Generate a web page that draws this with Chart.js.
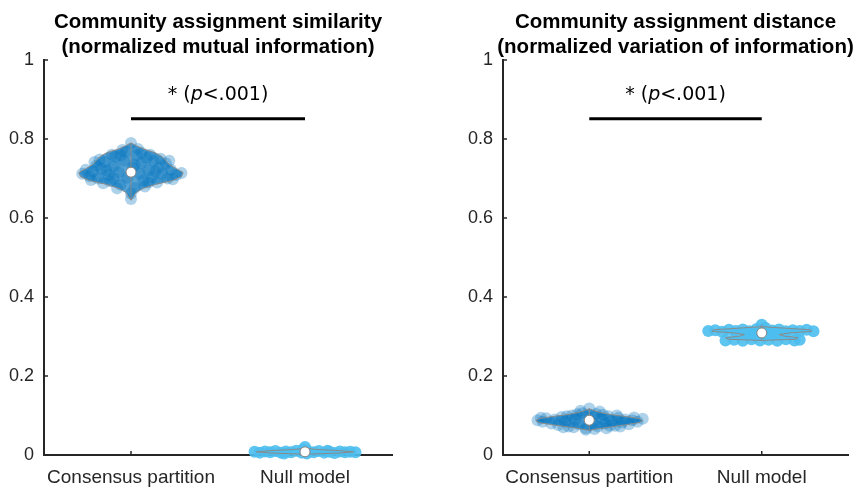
<!DOCTYPE html>
<html>
<head>
<meta charset="utf-8">
<script src="https://cdn.jsdelivr.net/npm/chart.js@4.4.1/dist/chart.umd.min.js"></script>
<style>
  html, body { margin: 0; padding: 0; background: #fff; }
  #wrap { position: relative; width: 858px; height: 489px; }
  .panel { position: absolute; top: 0; }
</style>
</head>
<body>
<div id="wrap">
  <canvas id="chartSim" class="panel" style="left:0" width="429" height="489"></canvas>
  <canvas id="chartDist" class="panel" style="left:429px" width="429" height="489"></canvas>
</div>
<script>
// ejes
const categories = ['Consensus partition', 'Null model'];
const catPositions = [1, 2];
const yTicks = [0, 0.2, 0.4, 0.6, 0.8, 1];
const yTickLabels = ['0', '0.2', '0.4', '0.6', '0.8', '1'];

const simTitle = ['Community assignment similarity', '(normalized mutual information)'];
const distTitle = ['Community assignment distance', '(normalized variation of information)'];

// barra de significancia
const sigLevel = 0.851;
const sigParts = ['* (', 'p', '<.001)'];

// --- NMI: consensus partition ---
const simConsOutlineY = [0.645, 0.655, 0.665, 0.675, 0.685, 0.695, 0.705, 0.715, 0.725, 0.735, 0.745, 0.755, 0.765, 0.775, 0.783, 0.79];
const simConsOutlineW = [0.0, 0.015, 0.03, 0.07, 0.14, 0.24, 0.29, 0.30, 0.26, 0.22, 0.20, 0.18, 0.14, 0.07, 0.03, 0.0];
const simConsPoints = [
  [-0.28, 0.712], [-0.24, 0.706], [-0.22, 0.718], [-0.19, 0.700], [-0.17, 0.725], [-0.15, 0.742],
  [-0.13, 0.709], [-0.12, 0.693], [-0.10, 0.731], [-0.09, 0.755], [-0.07, 0.716], [-0.06, 0.684],
  [-0.04, 0.745], [-0.03, 0.768], [-0.02, 0.702], [0.0, 0.790], [0.0, 0.648], [0.01, 0.728],
  [0.02, 0.676], [0.03, 0.758], [0.05, 0.712], [0.06, 0.739], [0.07, 0.695], [0.09, 0.752],
  [0.10, 0.721], [0.12, 0.704], [0.13, 0.744], [0.15, 0.690], [0.16, 0.728], [0.18, 0.712],
  [0.20, 0.738], [0.21, 0.700], [0.23, 0.722], [0.26, 0.709], [0.29, 0.714], [-0.26, 0.722],
  [-0.20, 0.732], [-0.16, 0.688], [0.11, 0.760], [-0.11, 0.760], [0.08, 0.680], [-0.08, 0.675],
  [0.24, 0.698], [-0.23, 0.696], [0.04, 0.775], [-0.05, 0.772], [0.14, 0.718], [-0.14, 0.720],
  [0.0, 0.662], [0.02, 0.735], [-0.18, 0.748], [0.17, 0.750], [-0.21, 0.742], [0.22, 0.745],
  [0.06, 0.765], [-0.06, 0.758], [0.10, 0.690], [-0.10, 0.700]
];
// --- NMI: null model ---
const simNullOutlineY = [0.002, 0.005, 0.008, 0.011, 0.014, 0.018];
const simNullOutlineW = [0.0, 0.2, 0.28, 0.2, 0.06, 0.0];
const simNullPoints = [
  [-0.29, 0.008], [-0.26, 0.006], [-0.23, 0.009], [-0.20, 0.007], [-0.17, 0.010], [-0.14, 0.006],
  [-0.11, 0.009], [-0.08, 0.007], [-0.05, 0.011], [-0.02, 0.006], [0.0, 0.020], [0.02, 0.009],
  [0.05, 0.007], [0.08, 0.010], [0.11, 0.006], [0.14, 0.008], [0.17, 0.005], [0.20, 0.009],
  [0.23, 0.007], [0.26, 0.008], [0.29, 0.007], [-0.01, 0.014], [0.01, 0.004], [-0.12, 0.004], [0.13, 0.011]
];
const simMedians = [0.716, 0.008];
const simRanges = [[0.645, 0.79], [0.003, 0.02]];

// --- VI: consensus partition ---
const distConsOutlineY = [0.062, 0.067, 0.072, 0.077, 0.082, 0.087, 0.092, 0.097, 0.102, 0.107, 0.112, 0.117];
const distConsOutlineW = [0.0, 0.06, 0.14, 0.22, 0.29, 0.31, 0.29, 0.22, 0.13, 0.07, 0.03, 0.0];
const distConsPoints = [
  [-0.30, 0.088], [-0.27, 0.084], [-0.25, 0.093], [-0.22, 0.080], [-0.20, 0.090], [-0.18, 0.076],
  [-0.16, 0.096], [-0.14, 0.085], [-0.12, 0.072], [-0.10, 0.100], [-0.08, 0.090], [-0.06, 0.078],
  [-0.04, 0.106], [-0.02, 0.068], [0.0, 0.118], [0.0, 0.094], [0.02, 0.082], [0.04, 0.104],
  [0.05, 0.072], [0.07, 0.092], [0.09, 0.080], [0.11, 0.098], [0.13, 0.086], [0.15, 0.074],
  [0.17, 0.094], [0.19, 0.082], [0.21, 0.090], [0.23, 0.078], [0.25, 0.088], [0.28, 0.084],
  [0.31, 0.092], [-0.28, 0.094], [0.26, 0.095], [-0.09, 0.070], [0.10, 0.068], [-0.05, 0.112],
  [0.06, 0.110], [0.12, 0.074], [-0.13, 0.098], [0.18, 0.072], [-0.02, 0.064], [0.03, 0.066],
  [-0.07, 0.103], [0.08, 0.102], [-0.15, 0.070], [0.16, 0.100]
];
// --- VI: null model ---
const distNullOutlineY = [0.290, 0.293, 0.297, 0.301, 0.305, 0.309, 0.313, 0.317, 0.321, 0.325];
const distNullOutlineW = [0.0, 0.20, 0.21, 0.13, 0.10, 0.16, 0.29, 0.28, 0.14, 0.0];
const distNullPoints = [
  [-0.31, 0.314], [-0.27, 0.316], [-0.23, 0.312], [-0.19, 0.317], [-0.15, 0.314], [-0.11, 0.318],
  [-0.07, 0.313], [-0.03, 0.319], [0.0, 0.330], [0.02, 0.322], [0.06, 0.315], [0.10, 0.318],
  [0.14, 0.313], [0.18, 0.316], [0.22, 0.314], [0.26, 0.317], [0.30, 0.313], [-0.21, 0.290],
  [-0.16, 0.292], [-0.11, 0.289], [-0.06, 0.293], [-0.01, 0.290], [0.04, 0.292], [0.09, 0.289],
  [0.14, 0.293], [0.19, 0.290], [0.22, 0.292], [-0.04, 0.303], [0.05, 0.305]
];
const distMedians = [0.088, 0.309];
const distRanges = [[0.062, 0.118], [0.29, 0.33]];

const darkBlueFill = 'rgba(0, 114, 189, 0.65)';
const darkBluePoint = 'rgba(0, 114, 189, 0.32)';
const lightBlueFill = 'rgba(77, 190, 238, 1)';
const lightBluePoint = 'rgba(77, 190, 238, 0.9)';
const axisColor = '#262626';

/**
 * Datasets de un violín: relleno, puntos, contorno, bigote y mediana.
 */
function violinSets(center, outY, outW, points, median, range, fillColor, pointColor, radius) {
    const edge = side => outY.map((y, i) => ({x: center + side * outW[i], y: y}));
    const sets = [];
    [1, -1].forEach(side => {
        sets.push({
            type: 'line', indexAxis: 'y', data: edge(side), borderWidth: 0, pointRadius: 0,
            fill: {value: center}, backgroundColor: fillColor, order: 5, clip: false
        });
        sets.push({
            type: 'line', data: edge(side), borderColor: '#8a8a8a', borderWidth: 1,
            pointRadius: 0, fill: false, order: 3, clip: false
        });
    });
    sets.push({
        type: 'scatter', data: points.map(p => ({x: center + p[0], y: p[1]})),
        pointRadius: radius, pointBorderWidth: 0, backgroundColor: pointColor, order: 4, clip: false
    });
    sets.push({
        type: 'line', data: [{x: center, y: range[0]}, {x: center, y: range[1]}],
        borderColor: '#8a8a8a', borderWidth: 1, pointRadius: 0, fill: false, order: 2, clip: false
    });
    sets.push({
        type: 'scatter', data: [{x: center, y: median}], pointRadius: 5,
        backgroundColor: '#ffffff', borderColor: '#808080', borderWidth: 1, order: 0, clip: false
    });
    return sets;
}

// ticks hacia dentro, título y etiqueta de significancia
const decor = {
    id: 'decor',
    beforeDatasetsDraw(chart) {
        const {ctx, scales: {x, y}} = chart;
        ctx.save();
        ctx.strokeStyle = axisColor;
        ctx.lineWidth = 1.5;
        yTicks.forEach(v => {
            const py = y.getPixelForValue(v);
            ctx.beginPath(); ctx.moveTo(x.left, py); ctx.lineTo(x.left + 4, py); ctx.stroke();
        });
        catPositions.forEach(v => {
            const px = x.getPixelForValue(v);
            ctx.beginPath(); ctx.moveTo(px, y.bottom); ctx.lineTo(px, y.bottom - 4); ctx.stroke();
        });
        ctx.restore();
    },
    afterDraw(chart, args, opts) {
        const {ctx, chartArea, scales: {x, y}} = chart;
        ctx.save();
        // título
        ctx.fillStyle = '#000';
        ctx.font = 'bold 20.5px "Liberation Sans", Arial, sans-serif';
        ctx.textAlign = 'center';
        ctx.textBaseline = 'alphabetic';
        const cx = (chartArea.left + chartArea.right) / 2;
        opts.title.forEach((line, i) => ctx.fillText(line, cx, 28 + i * 25));
        // * (p<.001)
        const fonts = ['19px "DejaVu Sans"', 'italic 19px "DejaVu Sans"', '19px "DejaVu Sans"'];
        let total = 0;
        const widths = sigParts.map((t, i) => { ctx.font = fonts[i]; const w = ctx.measureText(t).width; total += w; return w; });
        let tx = x.getPixelForValue(1.5) - total / 2;
        const ty = y.getPixelForValue(sigLevel) - 19;
        ctx.textAlign = 'left';
        ctx.fillStyle = '#000';
        sigParts.forEach((t, i) => { ctx.font = fonts[i]; ctx.fillText(t, tx, ty); tx += widths[i]; });
        ctx.restore();
    }
};

function makeChart(id, title, datasets, yWidth, padRight) {
    return new Chart(document.getElementById(id), {
        type: 'line',
        data: {datasets: datasets},
        options: {
            responsive: false,
            animation: false,
            events: [],
            layout: {padding: {top: 60, right: padRight, left: 0, bottom: 0}},
            plugins: {
                legend: {display: false},
                tooltip: {enabled: false},
                decor: {title: title}
            },
            scales: {
                x: {
                    type: 'linear', min: 0.5, max: 2.5,
                    afterBuildTicks: s => { s.ticks = catPositions.map(v => ({value: v})); },
                    afterFit: s => { s.height = 34; },
                    ticks: {
                        autoSkip: false, maxRotation: 0, padding: 3, color: axisColor,
                        font: {family: 'Liberation Sans', size: 19},
                        callback: (v, i) => categories[i]
                    },
                    grid: {display: false},
                    border: {color: axisColor, width: 2}
                },
                y: {
                    min: 0, max: 1,
                    afterBuildTicks: s => { s.ticks = yTicks.map(v => ({value: v})); },
                    afterFit: s => { s.width = yWidth; },
                    ticks: {
                        padding: 2, color: axisColor,
                        font: {family: 'Liberation Sans', size: 18},
                        callback: (v, i) => yTickLabels[i]
                    },
                    grid: {display: false},
                    border: {color: axisColor, width: 2}
                }
            }
        },
        plugins: [decor]
    });
}

function sigBar() {
    return {
        type: 'line', data: [{x: catPositions[0], y: sigLevel}, {x: catPositions[1], y: sigLevel}],
        borderColor: '#000', borderWidth: 3, pointRadius: 0, fill: false, order: 1
    };
}

const simSets = [sigBar()]
    .concat(violinSets(1, simConsOutlineY, simConsOutlineW, simConsPoints, simMedians[0], simRanges[0], darkBlueFill, darkBluePoint, 6))
    .concat(violinSets(2, simNullOutlineY, simNullOutlineW, simNullPoints, simMedians[1], simRanges[1], lightBlueFill, lightBluePoint, 6));

const distSets = [sigBar()]
    .concat(violinSets(1, distConsOutlineY, distConsOutlineW, distConsPoints, distMedians[0], distRanges[0], darkBlueFill, darkBluePoint, 6))
    .concat(violinSets(2, distNullOutlineY, distNullOutlineW, distNullPoints, distMedians[1], distRanges[1], lightBlueFill, lightBluePoint, 6));

makeChart('chartSim', simTitle, simSets, 44, 37);
makeChart('chartDist', distTitle, distSets, 74, 10);
</script>
</body>
</html>
